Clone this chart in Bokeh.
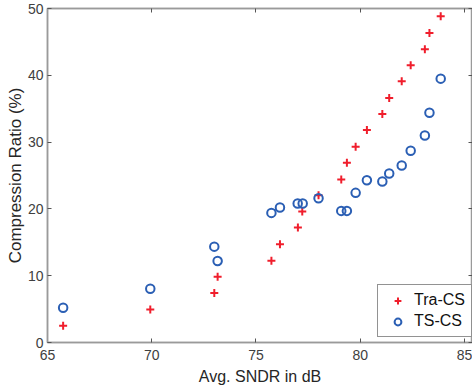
from bokeh.plotting import figure
from bokeh.models import Range1d, LinearAxis, FixedTicker, Legend, LegendItem
from bokeh.embed import file_html
from bokeh.resources import INLINE

# Data
sndr = [65.75, 69.93, 73.0, 73.16, 75.74, 76.15, 77.01, 77.22, 78.0, 79.09,
        79.36, 79.78, 80.32, 81.06, 81.39, 81.99, 82.42, 83.1, 83.32, 83.86]
tra_cs = [2.5, 4.95, 7.4, 9.85, 12.25, 14.7, 17.2, 19.6, 22.05, 24.4,
          26.9, 29.3, 31.8, 34.2, 36.6, 39.1, 41.5, 43.9, 46.35, 48.85]
ts_sndr = [65.75, 69.93, 73.0, 73.16, 75.74, 76.15, 77.0, 77.24, 78.0, 79.09,
           79.36, 79.78, 80.32, 81.06, 81.39, 81.99, 82.42, 83.1, 83.32, 83.86]
ts_cs = [5.2, 8.05, 14.35, 12.2, 19.4, 20.2, 20.8, 20.8, 21.6, 19.7,
         19.7, 22.4, 24.3, 24.1, 25.3, 26.5, 28.7, 31.0, 34.4, 39.5]
x_ticks = [65, 70, 75, 80, 85]
y_ticks = [0, 10, 20, 30, 40, 50]

FONT = "Liberation Sans"
AX = "#9a9a9a"
TXT = "#404040"

p = figure(width=472, height=387, output_backend="svg", toolbar_location=None,
           x_range=Range1d(65, 85.385), y_range=Range1d(0, 50),
           min_border_left=47, min_border_right=0, min_border_top=8,
           min_border_bottom=45)
p.grid.visible = False
p.outline_line_color = AX
p.outline_line_width = 1.5
p.background_fill_color = "white"
p.border_fill_color = "white"

def style_axis(ax, ticks, show_labels=True):
    ax.ticker = FixedTicker(ticks=ticks)
    ax.axis_line_color = AX
    ax.axis_line_width = 1.5
    ax.major_tick_line_color = "#555555"
    ax.major_tick_in = 4
    ax.major_tick_out = 0
    ax.minor_tick_line_color = None
    ax.major_label_text_font = FONT
    if show_labels:
        ax.major_label_text_font_size = "14px"
        ax.major_label_text_color = TXT
    else:
        ax.major_label_text_font_size = "1px"
        ax.major_label_text_color = None
        ax.major_label_standoff = 0

style_axis(p.xaxis[0], x_ticks)
style_axis(p.yaxis[0], y_ticks)
p.xaxis[0].axis_label = "Avg. SNDR in dB"
p.yaxis[0].axis_label = "Compression Ratio (%)"
for ax, size in ((p.xaxis[0], "16px"), (p.yaxis[0], "17px")):
    ax.axis_label_text_font = FONT
    ax.axis_label_text_font_size = size
    ax.axis_label_text_font_style = "normal"
    ax.axis_label_text_color = "#262626"
p.xaxis[0].major_label_standoff = 7
p.xaxis[0].axis_label_standoff = 5
p.yaxis[0].major_label_standoff = 4
p.yaxis[0].axis_label_standoff = 0

top = LinearAxis()
style_axis(top, x_ticks, show_labels=False)
p.add_layout(top, "above")
right = LinearAxis()
style_axis(right, y_ticks, show_labels=False)
p.add_layout(right, "right")

r1 = p.scatter(sndr, tra_cs, marker="cross", size=8, line_color="#f01e2c",
               line_width=2)
r2 = p.scatter(ts_sndr, ts_cs, marker="circle", size=8.5, fill_color=None,
               line_color="#2b5fb4", line_width=2)

legend = Legend(items=[LegendItem(label="Tra-CS", renderers=[r1]),
                       LegendItem(label="TS-CS", renderers=[r2])],
                location=(330, 5))
legend.label_text_font = FONT
legend.label_text_font_size = "16px"
legend.label_text_color = "#111111"
legend.border_line_color = "#262626"
legend.border_line_width = 1
legend.padding = 6
legend.spacing = 3
legend.glyph_width = 27
legend.glyph_height = 17
legend.label_height = 17
legend.label_standoff = 3
legend.margin = 0
p.add_layout(legend, "center")

open("out.html", "w").write(file_html(p, INLINE))
